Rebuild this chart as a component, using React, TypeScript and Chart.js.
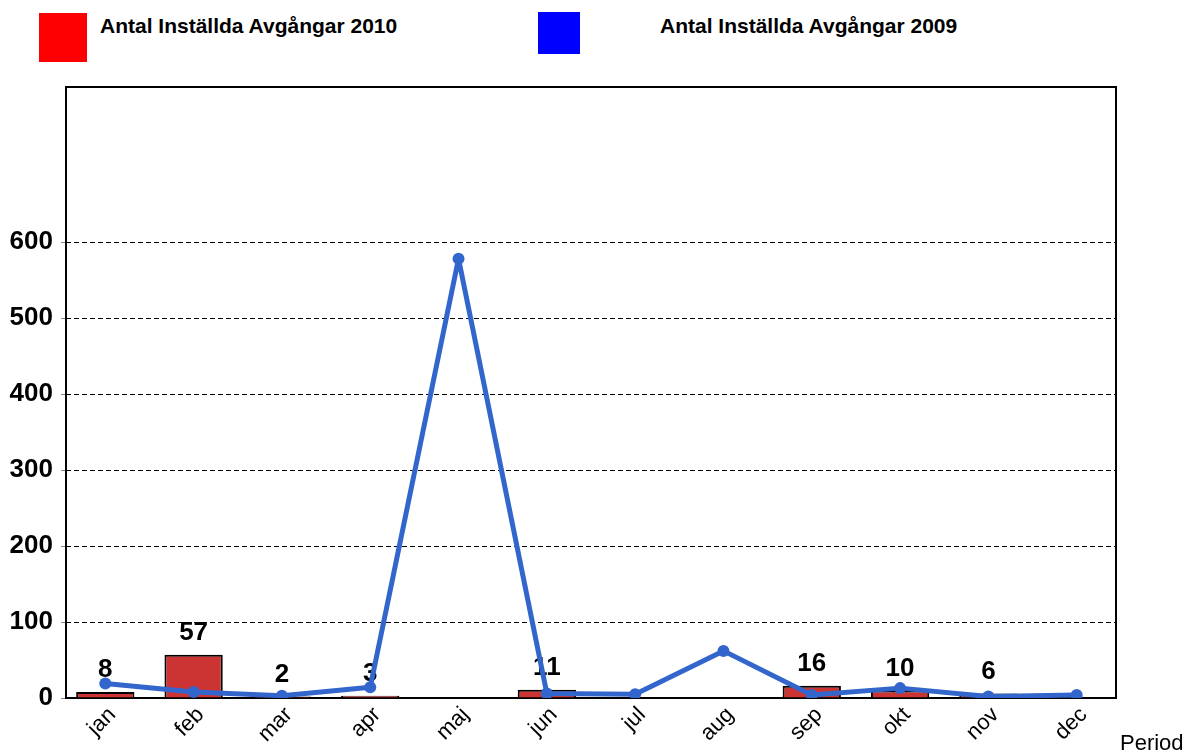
import React, { useEffect, useRef } from "react";
import { Chart, registerables } from "chart.js";

Chart.register(...registerables);

const months = ["jan", "feb", "mar", "apr", "maj", "jun", "jul", "aug", "sep", "okt", "nov", "dec"];
const cancelled2010 = [8, 57, 2, 3, 0, 11, 0, 0, 16, 10, 6, 0];
const cancelled2009 = [19, 8, 3, 14, 578, 6, 5, 62, 4, 13, 2, 4];
const yTicks = [0, 100, 200, 300, 400, 500, 600];
const yMax = 804;
const legendLabels = ["Antal Inställda Avgångar 2010", "Antal Inställda Avgångar 2009"];
const xTitle = "Period";

const FONT = "Arial, 'Liberation Sans', sans-serif";

export default function App() {
  const ref = useRef<HTMLCanvasElement | null>(null);
  useEffect(() => {
    document.body.style.margin = "0";
    const canvas = ref.current!;
    const framePlugin = {
      id: "frame",
      beforeDatasetsDraw(chart: any) {
        const { ctx, chartArea: a } = chart;
        ctx.save();
        ctx.strokeStyle = "#000";
        ctx.lineWidth = 2;
        ctx.strokeRect(a.left, a.top, a.right - a.left, a.bottom - a.top);
        ctx.restore();
      },
      afterDatasetDraw(chart: any, args: any) {
        if (args.index !== 0) return;
        const { ctx } = chart;
        const meta = chart.getDatasetMeta(0);
        ctx.save();
        ctx.fillStyle = "#000";
        ctx.font = `bold 26px ${FONT}`;
        ctx.textAlign = "center";
        ctx.textBaseline = "middle";
        meta.data.forEach((el: any, i: number) => {
          const v = cancelled2010[i];
          if (!v) return;
          ctx.fillText(String(v), el.x, el.y - 22);
        });
        ctx.restore();
      },
      afterDraw(chart: any) {
        const { ctx } = chart;
        ctx.save();
        ctx.fillStyle = "#000";
        ctx.font = `22px ${FONT}`;
        ctx.textAlign = "left";
        ctx.textBaseline = "middle";
        ctx.fillText(xTitle, 1120, 744);
        ctx.restore();
      },
    };
    const chart = new Chart(canvas, {
      data: {
        labels: months,
        datasets: [
          {
            type: "bar",
            label: legendLabels[0],
            data: cancelled2010,
            backgroundColor: "#CC3333",
            borderColor: "#000",
            borderWidth: 2,
            barPercentage: 0.66,
            categoryPercentage: 1,
            order: 2,
          },
          {
            type: "line",
            label: legendLabels[1],
            data: cancelled2009,
            borderColor: "#3366CC",
            backgroundColor: "#3366CC",
            borderWidth: 5,
            borderJoinStyle: "round",
            pointRadius: 6,
            pointBackgroundColor: "#3366CC",
            pointBorderWidth: 0,
            tension: 0,
            order: 1,
          },
        ],
      } as any,
      options: {
        animation: false,
        responsive: false,
        maintainAspectRatio: false,
        layout: { padding: { top: 87, left: 0, right: 73, bottom: 0 } },
        plugins: { legend: { display: false }, tooltip: { enabled: false } },
        scales: {
          x: {
            offset: true,
            grid: { display: false, drawTicks: false },
            border: { display: false },
            ticks: {
              minRotation: 45,
              maxRotation: 45,
              color: "#000",
              font: { family: FONT, size: 22 },
              padding: 4,
              labelOffset: 7,
            },
            afterBuildTicks(scale: any) {
              scale._startValue = -0.445;
              scale._valueRange = 11.89;
            },
            afterFit(scale: any) {
              scale.height = 56;
              scale.paddingLeft = 0;
              scale.paddingRight = 0;
            },
          },
          y: {
            min: 0,
            max: yMax,
            afterBuildTicks(scale: any) {
              scale.ticks = yTicks.map((v) => ({ value: v }));
            },
            grid: {
              color: (c: any) => (c.tick && c.tick.value === 0 ? "rgba(0,0,0,0)" : "#000"),
              lineWidth: 1,
              tickLength: 5,
              tickColor: "#888",
            },
            border: { display: false, dash: [5, 3] },
            ticks: {
              color: "#000",
              font: { family: FONT, size: 26, weight: "bold" },
              padding: 8,
            },
            afterFit(scale: any) {
              scale.width = 66;
            },
          },
        },
      } as any,
      plugins: [framePlugin],
    });
    return () => chart.destroy();
  }, []);

  const legendBox = (left: number, top: number, w: number, h: number, color: string) => (
    <div style={{ position: "absolute", left, top, width: w, height: h, background: color }} />
  );
  const legendText = (left: number, text: string) => (
    <div
      style={{
        position: "absolute",
        left,
        top: 14,
        fontFamily: FONT,
        fontWeight: "bold",
        fontSize: 21,
        lineHeight: "24px",
        color: "#000",
        whiteSpace: "nowrap",
      }}
    >
      {text}
    </div>
  );

  return (
    <div style={{ position: "relative", width: 1189, height: 754, background: "#fff" }}>
      {legendBox(39, 13, 48, 49, "#FF0000")}
      {legendText(100, legendLabels[0])}
      {legendBox(538, 12, 42, 42, "#0000FF")}
      {legendText(660, legendLabels[1])}
      <canvas ref={ref} width={1189} height={754} style={{ position: "absolute", left: 0, top: 0 }} />
    </div>
  );
}
